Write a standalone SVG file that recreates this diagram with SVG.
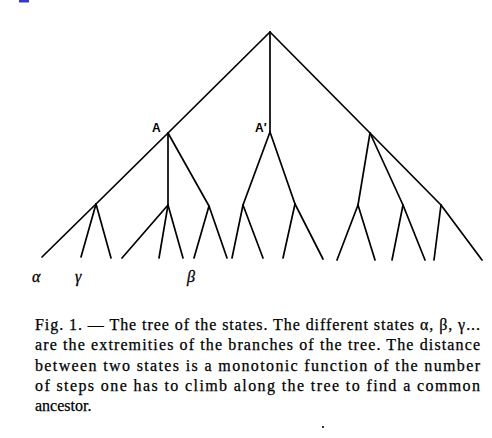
<svg xmlns="http://www.w3.org/2000/svg" width="492" height="438" viewBox="0 0 492 438">
<style>
.e{stroke:#000;stroke-width:1.7;fill:none;stroke-linecap:round}
.lbl{font-family:"Liberation Sans",Arial,sans-serif;font-weight:bold;font-size:12px;fill:#000}
.st{font-family:"Liberation Serif","Times New Roman",serif;font-style:italic;font-size:16px;fill:#000;stroke:#000;stroke-width:0.3}
.cap{font-family:"Liberation Serif","Times New Roman",serif;font-size:16px;fill:#000;stroke:#000;stroke-width:0.25}
</style>
<rect width="492" height="438" fill="#fff"/>
<rect x="19" y="0" width="10" height="2.5" fill="#3a3ad0"/>
<g id="connectors">
<line class="e" x1="270" y1="32" x2="168" y2="133"/>
<line class="e" x1="270" y1="32" x2="270" y2="132"/>
<line class="e" x1="270" y1="32" x2="370" y2="133"/>
<line class="e" x1="168" y1="133" x2="96" y2="204"/>
<line class="e" x1="168" y1="133" x2="168" y2="205"/>
<line class="e" x1="168" y1="133" x2="209" y2="206"/>
<line class="e" x1="96" y1="204" x2="42" y2="257"/>
<line class="e" x1="96" y1="204" x2="81" y2="257"/>
<line class="e" x1="96" y1="204" x2="111" y2="258"/>
<line class="e" x1="168" y1="205" x2="122" y2="258"/>
<line class="e" x1="168" y1="205" x2="159" y2="258"/>
<line class="e" x1="168" y1="205" x2="183" y2="258"/>
<line class="e" x1="209" y1="206" x2="194" y2="258"/>
<line class="e" x1="209" y1="206" x2="227" y2="258"/>
<line class="e" x1="270" y1="132" x2="243" y2="205"/>
<line class="e" x1="270" y1="132" x2="295" y2="204"/>
<line class="e" x1="243" y1="205" x2="232" y2="258"/>
<line class="e" x1="243" y1="205" x2="263" y2="258"/>
<line class="e" x1="295" y1="204" x2="283" y2="258"/>
<line class="e" x1="295" y1="204" x2="323" y2="259"/>
<line class="e" x1="370" y1="133" x2="358" y2="205"/>
<line class="e" x1="370" y1="133" x2="403" y2="205"/>
<line class="e" x1="370" y1="133" x2="441" y2="205"/>
<line class="e" x1="358" y1="205" x2="337" y2="260"/>
<line class="e" x1="358" y1="205" x2="375" y2="260"/>
<line class="e" x1="403" y1="205" x2="392" y2="260"/>
<line class="e" x1="403" y1="205" x2="425" y2="260"/>
<line class="e" x1="441" y1="205" x2="434" y2="260"/>
<line class="e" x1="441" y1="205" x2="482" y2="260"/>
</g>
<g id="node-A"><text class="lbl" x="152" y="132">A</text></g>
<g id="node-Aprime"><text class="lbl" x="255" y="132">A′</text></g>
<g id="leaf-alpha"><text class="st" x="32" y="282">α</text></g>
<g id="leaf-gamma"><text class="st" x="75" y="282">γ</text></g>
<g id="leaf-beta"><text class="st" x="187" y="282">β</text></g>
<g id="caption">
<text class="cap" x="35" y="330" textLength="445" lengthAdjust="spacing">Fig. 1. — The tree of the states. The different states α, β, γ...</text>
<text class="cap" x="35" y="350" textLength="445" lengthAdjust="spacing">are the extremities of the branches of the tree. The distance</text>
<text class="cap" x="35" y="370.5" textLength="445" lengthAdjust="spacing">between two states is a monotonic function of the number</text>
<text class="cap" x="35" y="390.5" textLength="445" lengthAdjust="spacing">of steps one has to climb along the tree to find a common</text>
<text class="cap" x="35" y="410.5">ancestor.</text>
</g>
<rect x="322" y="426" width="2" height="2" fill="#333"/>
</svg>
